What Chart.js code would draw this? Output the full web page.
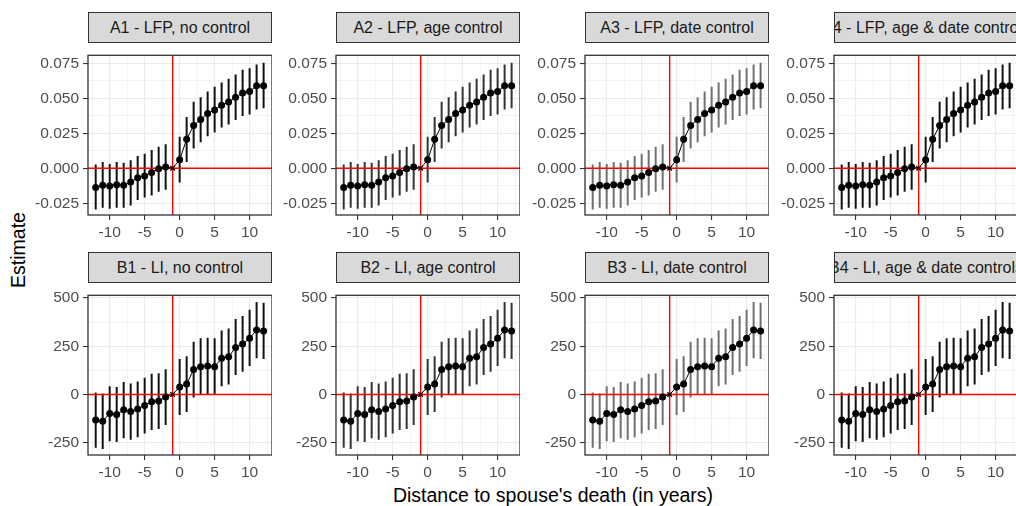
<!DOCTYPE html>
<html>
<head>
<meta charset="utf-8">
<script src="https://cdn.jsdelivr.net/npm/chart.js@4.4.1/dist/chart.umd.min.js"></script>
<style>
    html, body { margin: 0; padding: 0; background: #fff; }
    body {
        width: 1016px; height: 506px;
        position: relative; overflow: hidden;
        font-family: "Liberation Sans", Arial, sans-serif;
    }
    canvas.panel { position: absolute; }
    .strip {
        position: absolute; box-sizing: border-box;
        background: #d9d9d9; border: 1.3px solid #333;
        display: flex; justify-content: center; align-items: center;
        overflow: hidden; white-space: nowrap;
        font-size: 16px; color: #1a1a1a;
    }
    .strip span { flex: none; }
    .axis-title { position: absolute; font-size: 19.5px; color: #000; white-space: nowrap; text-align: center; line-height: 22px; }
</style>
</head>
<body>

<div class="axis-title" id="yTitle" style="left:-82px; top:239px; width:200px; transform:rotate(-90deg);">Estimate</div>
<div class="axis-title" id="xTitle" style="left:353px; top:484px; width:400px;">Distance to spouse's death (in years)</div>

<script>
/* =========================
   DATA
========================= */

const years = [-12, -11, -10, -9, -8, -7, -6, -5, -4, -3, -2, -1, 0, 1, 2, 3, 4, 5, 6, 7, 8, 9, 10, 11, 12];
const refYear = -1;

// labour force participation (A panels)
const lfpEst  = [-0.0137, -0.0121, -0.0126, -0.0117, -0.0121, -0.0099, -0.0068, -0.0055, -0.0031, -0.0004, 0.0009, 0,
                 0.0060, 0.0207, 0.0306, 0.0348, 0.0392, 0.0417, 0.0450, 0.0474, 0.0507, 0.0538, 0.0549, 0.0589, 0.0589];
const lfpLow  = [-0.0295, -0.0282, -0.0289, -0.0282, -0.0282, -0.0267, -0.0227, -0.0209, -0.0194, -0.0168, -0.0154, null,
                 -0.0101, 0.0044, 0.0141, 0.0185, 0.0229, 0.0256, 0.0291, 0.0313, 0.0344, 0.0373, 0.0384, 0.0419, 0.0428];
const lfpHigh = [0.0026, 0.0044, 0.0031, 0.0044, 0.0040, 0.0057, 0.0088, 0.0104, 0.0130, 0.0154, 0.0172, null,
                 0.0225, 0.0366, 0.0476, 0.0507, 0.0549, 0.0582, 0.0613, 0.0639, 0.0670, 0.0703, 0.0714, 0.0741, 0.0754];

// labour income (B panels)
const liEst  = [-132, -139, -99, -104, -80, -88, -75, -57, -38, -34, -13, 0,
                38, 54, 129, 144, 147, 144, 188, 195, 244, 262, 291, 334, 329];
const liLow  = [-276, -283, -243, -247, -227, -235, -222, -203, -184, -179, -158, null,
                -107, -91, -16, 0, 2, 0, 42, 51, 101, 117, 148, 187, 184];
const liHigh = [10, 5, 42, 38, 64, 57, 67, 86, 107, 110, 131, null,
                184, 198, 273, 291, 294, 291, 332, 342, 391, 407, 439, 479, 476];

const xTicks   = [-12.5, -10, -7.5, -5, -2.5, 0, 2.5, 5, 7.5, 10, 12.5];
const xMajor   = [-10, -5, 0, 5, 10];
const lfpTicks = [-0.025, -0.0125, 0, 0.0125, 0.025, 0.0375, 0.05, 0.0625, 0.075];
const lfpMajor = [-0.025, 0, 0.025, 0.05, 0.075];
const liTicks  = [-250, -125, 0, 125, 250, 375, 500];
const liMajor  = [-250, 0, 250, 500];

const titlesA = ['A1 - LFP, no control', 'A2 - LFP, age control', 'A3 - LFP, date control', 'A4 - LFP, age & date controls'];
const titlesB = ['B1 - LI, no control', 'B2 - LI, age control', 'B3 - LI, date control', 'B4 - LI, age & date controls'];

/* =========================
   LAYOUT
========================= */

const FONT = '"Liberation Sans", Arial, sans-serif';
const colLeft = [88, 336, 585, 834];
const plotW = 184;
const plotH = 173;
const yAxisW = 60;
const xAxisH = 30;
const stripH = 31;
const barColors = ['#111111', '#333333', '#707070', '#111111'];

const rows = [
    { top: 42, titles: titlesA, est: lfpEst, low: lfpLow, high: lfpHigh,
      ticks: lfpTicks, major: lfpMajor, min: -0.0334, max: 0.0807,
      fmt: v => v.toFixed(3) },
    { top: 282, titles: titlesB, est: liEst, low: liLow, high: liHigh,
      ticks: liTicks, major: liMajor, min: -314, max: 514,
      fmt: v => String(v) }
];

const xMin = -13.1;
const xMax = 13.2;

/* =========================
   HELPERS
========================= */

function barPoints(low, high){
    const pts = [];
    years.forEach(function(x, i){
        if (low[i] === null) return;
        pts.push({ x: x, y: low[i] }, { x: x, y: high[i] }, { x: x, y: null });
    });
    return pts;
}

function isMajor(list, v){
    return list.some(m => Math.abs(m - v) < 1e-9);
}

const panelBorder = {
    id: 'panelBorder',
    afterDraw(chart){
        const a = chart.chartArea;
        const ctx = chart.ctx;
        ctx.save();
        ctx.strokeStyle = '#333333';
        ctx.lineWidth = 1.3;
        ctx.strokeRect(a.left, a.top, a.right - a.left, a.bottom - a.top);
        ctx.restore();
    }
};

function gridOpts(major){
    return {
        color: '#ebebeb',
        lineWidth: c => (c.tick && isMajor(major, c.tick.value)) ? 1.1 : 0.55,
        tickColor: c => (c.tick && isMajor(major, c.tick.value)) ? '#333333' : 'rgba(0,0,0,0)',
        tickLength: 5,
        tickWidth: 1.1,
        drawTicks: true
    };
}

/* =========================
   PANELS
========================= */

rows.forEach(function(row){

    row.titles.forEach(function(title, col){

        const left = colLeft[col];

        // strip
        const strip = document.createElement('div');
        strip.className = 'strip';
        strip.style.left = left + 'px';
        strip.style.top = (row.top - stripH + 1) + 'px';
        strip.style.width = plotW + 'px';
        strip.style.height = stripH + 'px';
        const span = document.createElement('span');
        span.textContent = title;
        strip.appendChild(span);
        document.body.appendChild(strip);

        // canvas
        const canvas = document.createElement('canvas');
        canvas.className = 'panel';
        canvas.width = yAxisW + plotW;
        canvas.height = plotH + xAxisH;
        canvas.style.left = (left - yAxisW) + 'px';
        canvas.style.top = row.top + 'px';
        document.body.appendChild(canvas);

        new Chart(canvas, {
            type: 'line',
            data: {
                datasets: [
                    {
                        // reference lines
                        data: [{ x: refYear, y: row.min }, { x: refYear, y: row.max }],
                        borderColor: '#ff0000', borderWidth: 1.4,
                        pointRadius: 0, order: 1
                    },
                    {
                        data: [{ x: xMin, y: 0 }, { x: xMax, y: 0 }],
                        borderColor: '#ff0000', borderWidth: 1.4,
                        pointRadius: 0, order: 1
                    },
                    {
                        // estimates
                        data: years.map((x, i) => ({ x: x, y: row.est[i] })),
                        borderColor: '#000000', borderWidth: 1,
                        backgroundColor: '#000000',
                        pointBackgroundColor: '#000000',
                        pointBorderColor: '#000000',
                        pointStyle: c => (years[c.dataIndex] === refYear) ? 'crossRot' : 'circle',
                        pointRadius: c => (years[c.dataIndex] === refYear) ? 3.2 : 3.5,
                        pointBorderWidth: c => (years[c.dataIndex] === refYear) ? 1.3 : 0,
                        tension: 0, order: 0
                    },
                    {
                        // confidence intervals
                        data: barPoints(row.low, row.high),
                        borderColor: barColors[col], borderWidth: 2,
                        borderCapStyle: 'butt',
                        pointRadius: 0, spanGaps: false, order: 2
                    }
                ]
            },
            options: {
                animation: false,
                responsive: false,
                events: [],
                layout: { padding: 0, autoPadding: false },
                plugins: { legend: { display: false }, tooltip: { enabled: false } },
                scales: {
                    x: {
                        type: 'linear', min: xMin, max: xMax,
                        afterBuildTicks: s => { s.ticks = xTicks.map(v => ({ value: v })); },
                        afterFit: s => { s.height = xAxisH; },
                        grid: gridOpts(xMajor),
                        border: { display: false },
                        ticks: {
                            autoSkip: false, maxRotation: 0, padding: 3,
                            color: '#4d4d4d', font: { family: FONT, size: 15.5 },
                            callback: v => isMajor(xMajor, v) ? String(v) : ''
                        }
                    },
                    y: {
                        type: 'linear', min: row.min, max: row.max,
                        afterBuildTicks: s => { s.ticks = row.ticks.map(v => ({ value: v })); },
                        afterFit: s => { s.width = yAxisW; },
                        grid: gridOpts(row.major),
                        border: { display: false },
                        ticks: {
                            autoSkip: false, padding: 4,
                            color: '#4d4d4d', font: { family: FONT, size: 15.5 },
                            callback: v => isMajor(row.major, v) ? row.fmt(v) : ''
                        }
                    }
                }
            },
            plugins: [panelBorder]
        });

    });

});
</script>
</body>
</html>
